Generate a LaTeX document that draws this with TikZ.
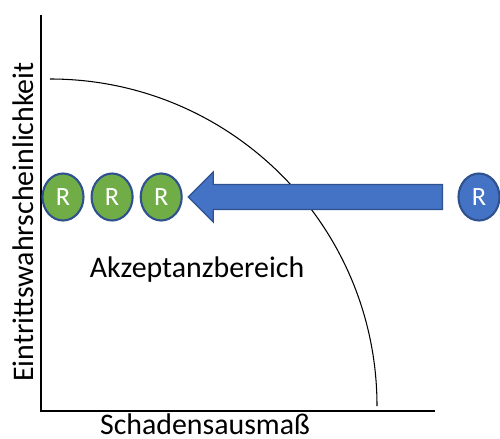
\documentclass[tikz,border=0pt]{standalone}
\usepackage{fontspec}
\setmainfont{Carlito}
\usepackage{xcolor}
\usepackage{tikz}
\usetikzlibrary{positioning, calc, shapes.geometric}

\definecolor{offblue}{HTML}{4472C4}
\definecolor{offgreen}{HTML}{70AD47}
\definecolor{edgeblue}{HTML}{2F528F}

\tikzset{
  risk/.style={ellipse, draw=edgeblue, line width=1.2pt, minimum width=0.82cm,
    minimum height=0.94cm, inner sep=0pt, text=white, font=\fontsize{15}{15}\selectfont},
  label/.style={font=\fontsize{17}{17}\selectfont}
}

\begin{document}
\begin{tikzpicture}[x=0.02cm, y=-0.02cm, node distance=0.12cm]
\useasboundingbox (0,0) rectangle (500,439);

% --- axes ---
\coordinate (ytop) at (41,15);
\coordinate (origin) at (41,411);
\coordinate (xend) at (435,411);
\draw[line width=0.6pt] (ytop) -- (origin) -- (xend);
\node[label, anchor=base] (xlabel) at (205,434) {Schadensausmaß};
\node[label, rotate=90] (ylabel) at (23,222) {Eintrittswahrscheinlichkeit};

% --- border of the acceptance region ---
\draw[line width=0.6pt] (50,79) arc[start angle=270, end angle=360, radius=327];
\node[label] (accept) at (197,270) {Akzeptanzbereich};

% --- risks inside ---
\node[risk, fill=offgreen] (r1) at (63,197) {R};
\node[risk, fill=offgreen, right=of r1] (r2) {R};
\node[risk, fill=offgreen, right=of r2] (r3) {R};

% --- risk outside ---
\node[risk, fill=offblue] (rout) at (479,197) {R};

% --- block arrow: risk is reduced ---
\coordinate[right=0.11cm of r3] (tip);
\coordinate[left=0.3cm of rout] (tail);
\filldraw[fill=offblue, draw=edgeblue, line width=0.8pt]
  (tip) -- ($(tip)+(25,-25)$) -- ($(tip)+(25,-12.5)$) -- ($(tail)+(0,-12.5)$)
  -- ($(tail)+(0,12.5)$) -- ($(tip)+(25,12.5)$) -- ($(tip)+(25,25)$) -- cycle;

\end{tikzpicture}
\end{document}
